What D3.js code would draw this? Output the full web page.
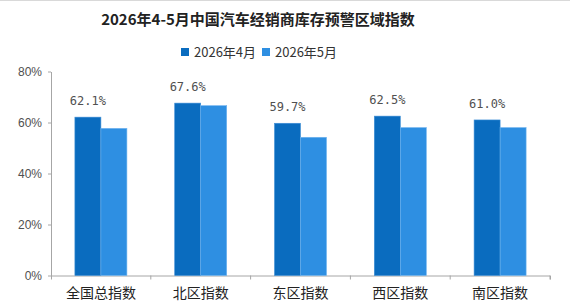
<!DOCTYPE html>
<html>
<head>
<meta charset="utf-8">
<script src="https://cdn.jsdelivr.net/npm/d3@7"></script>
<style>
  body { margin: 0; background: #fff; }
  svg { display: block; }
</style>
</head>
<body>
<div id="chart"></div>
<script>
// chart data
const categories = ["全国总指数", "北区指数", "东区指数", "西区指数", "南区指数"];
const seriesNames = ["2026年4月", "2026年5月"];
const april = [62.1, 67.6, 59.7, 62.5, 61.0];
const may = [57.7, 66.6, 54.2, 58.0, 58.0];
const yTicks = [0, 20, 40, 60, 80];
const colors = ["#0A6CBF", "#2E8FE2"];

const width = 570, height = 304;
const margin = { top: 71.5, right: 20, bottom: 28.5, left: 51 };

const svg = d3.select("#chart")
    .append("svg")
    .attr("width", width)
    .attr("height", height);

// thin frame line at top
svg.append("line")
    .attr("x1", 0).attr("x2", width)
    .attr("y1", 0.5).attr("y2", 0.5)
    .attr("stroke", "#d9d9d9");

// title
svg.append("text")
    .attr("x", 258)
    .attr("y", 25)
    .attr("text-anchor", "middle")
    .attr("font-family", "'Noto Sans CJK SC', sans-serif")
    .attr("font-weight", "bold")
    .attr("font-size", 15)
    .attr("fill", "#222")
    .text("2026年4-5月中国汽车经销商库存预警区域指数");

// legend
const legendX = [181, 262];
const legend = svg.selectAll(".legend")
    .data(seriesNames)
    .enter()
    .append("g")
    .attr("class", "legend")
    .attr("transform", (d, i) => `translate(${legendX[i]},48)`);

legend.append("rect")
    .attr("width", 8)
    .attr("height", 8)
    .attr("fill", (d, i) => colors[i]);

legend.append("text")
    .attr("x", 13)
    .attr("y", 8.5)
    .attr("font-family", "'Noto Sans CJK SC', sans-serif")
    .attr("font-size", 13)
    .attr("fill", "#333")
    .text(d => d);

const g = svg.append("g")
    .attr("transform", `translate(${margin.left},${margin.top})`);

const innerW = 550 - margin.left;
const innerH = height - margin.top - margin.bottom;

// scales
const x = d3.scaleBand()
    .domain(categories)
    .range([0, innerW]);

const y = d3.scaleLinear()
    .domain([0, 80])
    .range([innerH, 0]);

const barW = 26;

// axes
const yAxis = g.append("g")
    .call(d3.axisLeft(y).tickValues(yTicks).tickFormat(d => d + "%").tickSize(3).tickSizeOuter(0));
yAxis.select(".domain").attr("stroke", "#a6a6a6");
yAxis.selectAll(".tick line").attr("stroke", "#a6a6a6");
yAxis.selectAll(".tick text")
    .attr("font-family", "'Liberation Sans', sans-serif")
    .attr("font-size", 12)
    .attr("fill", "#505050")
    .attr("x", -9);

const xAxis = g.append("g")
    .attr("transform", `translate(0,${innerH})`)
    .call(d3.axisBottom(x).tickSize(0).tickSizeOuter(4));
xAxis.select(".domain").attr("stroke", "#a6a6a6");
xAxis.selectAll(".tick text")
    .attr("font-family", "'Noto Sans CJK SC', sans-serif")
    .attr("font-size", 14)
    .attr("fill", "#222")
    .attr("dy", "1.4em");

// boundary ticks between categories
g.selectAll(".sep")
    .data(categories)
    .enter()
    .append("line")
    .attr("class", "sep")
    .attr("x1", d => x(d) + x.bandwidth())
    .attr("x2", d => x(d) + x.bandwidth())
    .attr("y1", innerH)
    .attr("y2", innerH + 4)
    .attr("stroke", "#a6a6a6");

// bars
const series = [april, may];
series.forEach((vals, si) => {
    g.selectAll(".bar" + si)
        .data(vals)
        .enter()
        .append("rect")
        .attr("class", "bar" + si)
        .attr("x", (d, i) => x(categories[i]) + x.bandwidth() / 2 - barW + si * barW)
        .attr("y", d => y(d))
        .attr("width", barW)
        .attr("height", d => innerH - y(d))
        .attr("fill", colors[si])
        .attr("stroke", si === 0 ? "#3f8fd6" : "#6fb3ee")
        .attr("stroke-width", 0.6);
});

// value labels over April bars
g.selectAll(".label")
    .data(april)
    .enter()
    .append("text")
    .attr("class", "label")
    .attr("x", (d, i) => x(categories[i]) + x.bandwidth() / 2 - barW / 2)
    .attr("y", d => y(d) - 12)
    .attr("text-anchor", "middle")
    .attr("font-family", "'DejaVu Sans Mono', monospace")
    .attr("font-size", 12)
    .attr("fill", "#505050")
    .text(d => d.toFixed(1) + "%");
</script>
</body>
</html>
